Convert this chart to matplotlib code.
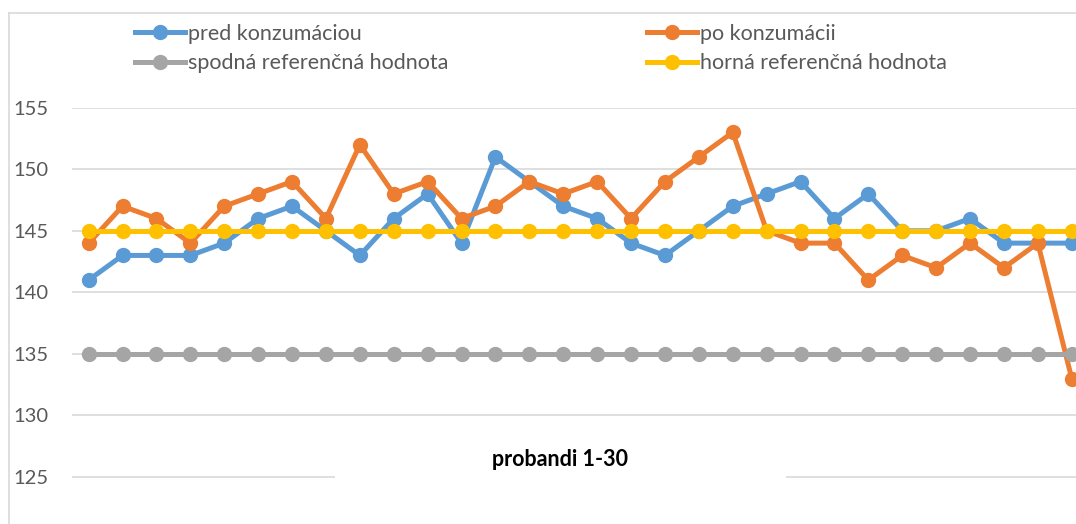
import matplotlib
matplotlib.use("Agg")
import matplotlib.pyplot as plt
from matplotlib.lines import Line2D
from matplotlib.patches import Rectangle

plt.rcParams['font.family'] = ['Lato', 'DejaVu Sans']

# probandi 1-30
probandi = list(range(1, 31))
pred = [141, 143, 143, 143, 144, 146, 147, 145, 143, 146,
        148, 144, 151, 149, 147, 146, 144, 143, 145, 147,
        148, 149, 146, 148, 145, 145, 146, 144, 144, 144]
po = [144, 147, 146, 144, 147, 148, 149, 146, 152, 148,
      149, 146, 147, 149, 148, 149, 146, 149, 151, 153,
      145, 144, 144, 141, 143, 142, 144, 142, 144, 133]
spodna = [135, 135, 135, 135, 135, 135, 135, 135, 135, 135,
          135, 135, 135, 135, 135, 135, 135, 135, 135, 135,
          135, 135, 135, 135, 135, 135, 135, 135, 135, 135]
horna = [145, 145, 145, 145, 145, 145, 145, 145, 145, 145,
         145, 145, 145, 145, 145, 145, 145, 145, 145, 145,
         145, 145, 145, 145, 145, 145, 145, 145, 145, 145]
yticks = [125, 130, 135, 140, 145, 150, 155]

names = ["pred konzumáciou", "po konzumácii",
         "spodná referenčná hodnota", "horná referenčná hodnota"]
colors = ["#5B9BD5", "#ED7D31", "#A5A5A5", "#FFC000"]

W, H = 1076, 524
fig = plt.figure(figsize=(W / 100, H / 100), dpi=100)

# plot area runs past the right and bottom edge (the picture is cropped)
x0, x1 = 71.7, 1088.7
ytop, ybot = 107.7, 538.6
ax = fig.add_axes([x0 / W, 1 - ybot / H, (x1 - x0) / W, (ybot - ytop) / H])

handles = []
for i, (vals, name) in enumerate(zip([pred, po, spodna, horna], names)):
    h, = ax.plot(probandi, vals, color=colors[i], lw=3.6, marker="o",
                 markersize=10, label=name, zorder=3 + i, clip_on=False)
    handles.append(h)

ax.set_xlim(0.5, 30.5)
ax.set_ylim(120, 155)
ax.set_yticks(yticks)
ax.set_xticks([])
ax.tick_params(axis="y", length=0, pad=17, labelsize=14.5, labelcolor="#595959")
for s in ax.spines.values():
    s.set_visible(False)
ax.set_axisbelow(True)
ax.yaxis.grid(True, color="#D9D9D9", lw=1.2)

# axis title with its white box over the grid
ax.add_patch(Rectangle((335 / W, 1 - 486 / H), 451 / W, 46 / H,
                       transform=fig.transFigure, facecolor="white",
                       edgecolor="none", zorder=1))
fig.text(560 / W, 1 - 460 / H, "probandi 1-30", ha="center", va="center",
         fontsize=15.5, fontweight="bold", color="black")

# chart frame
fig.add_artist(Line2D([9 / W, 9 / W], [0, 1 - 13 / H], color="#D9D9D9", lw=1.2))
fig.add_artist(Line2D([9 / W, 1], [1 - 13 / H, 1 - 13 / H], color="#D9D9D9", lw=1.2))

leg_kw = dict(frameon=False, fontsize=15.5, handlelength=2.3, handletextpad=0.15,
              labelspacing=0.42, labelcolor="#595959", borderpad=0, borderaxespad=0,
              loc="upper left")
fig.legend([handles[0], handles[2]], [names[0], names[2]],
           bbox_to_anchor=(135 / W, 1 - 24 / H), **leg_kw)
fig.legend([handles[1], handles[3]], [names[1], names[3]],
           bbox_to_anchor=(647 / W, 1 - 24 / H), **leg_kw)

fig.savefig("out.png", dpi=100)
